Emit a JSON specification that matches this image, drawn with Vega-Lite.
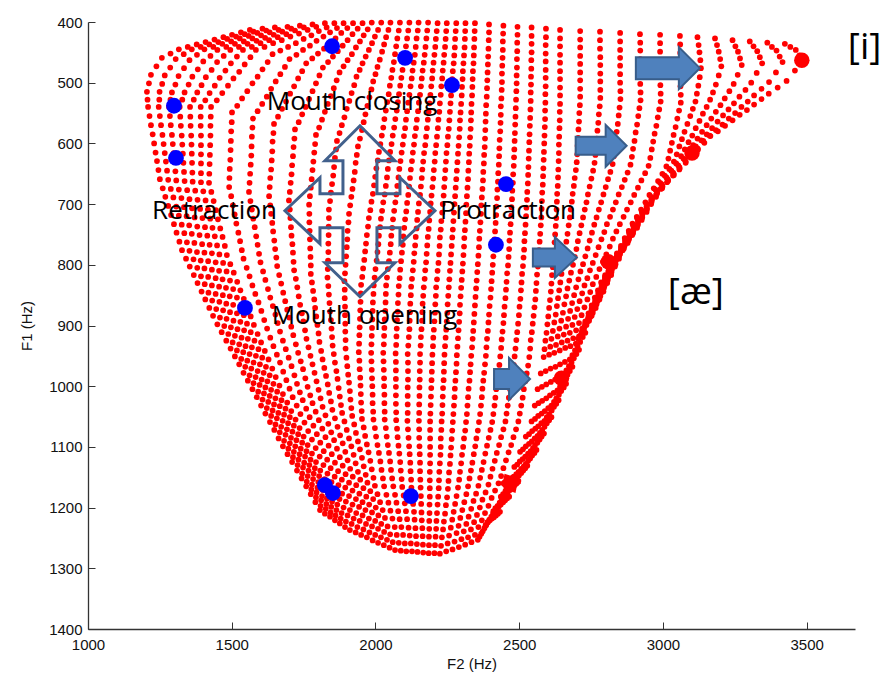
{
"$schema":"https://vega.github.io/schema/vega-lite/v6.json",
"width":767,"height":607,
"autosize":{"type":"none"},
"padding":{"left":88,"top":22,"right":30,"bottom":49},
"background":"white",
"config":{"view":{"stroke":null},
"axis":{"grid":false,"domainColor":"#333333","tickColor":"#333333","domainWidth":1.3,"tickWidth":1,"labelFont":"Liberation Sans","labelFontSize":15,"labelColor":"#111111","titleFont":"Liberation Sans","titleFontSize":15,"titleFontWeight":"normal","titleColor":"#111111","labelFlush":false,"labelOverlap":false,"tickSize":-7,"format":"d"},
"axisX":{"labelPadding":15,"titlePadding":4},
"axisY":{"labelPadding":13,"titlePadding":14}},
"datasets":{
"dots":[
{"x":1563,"y":413},{"x":1607,"y":411},{"x":1650,"y":409},{"x":1694,"y":408},{"x":1737,"y":406},{"x":1781,"y":404},{"x":1824,"y":402},{"x":1857,"y":402},{"x":1889,"y":402},{"x":1922,"y":402},{"x":1955,"y":402},{"x":1987,"y":401},{"x":2020,"y":401},{"x":2052,"y":401},{"x":2085,"y":401},{"x":2118,"y":401},{"x":2150,"y":401},{"x":2183,"y":401},{"x":2216,"y":402},{"x":2248,"y":402},{"x":2281,"y":402},{"x":2313,"y":402},{"x":2346,"y":402},{"x":2395,"y":404},{"x":2445,"y":406},{"x":2494,"y":408},{"x":2543,"y":409},{"x":2593,"y":411},{"x":2642,"y":413},{"x":2712,"y":415},{"x":2781,"y":416},{"x":2851,"y":418},{"x":2920,"y":420},{"x":2990,"y":421},{"x":3059,"y":423},{"x":3120,"y":425},{"x":3181,"y":427},{"x":3242,"y":430},{"x":3302,"y":432},{"x":3363,"y":434},{"x":3424,"y":436},
{"x":1501,"y":421},{"x":1545,"y":420},{"x":1589,"y":418},{"x":1632,"y":417},{"x":1676,"y":416},{"x":1720,"y":414},{"x":1764,"y":413},{"x":1803,"y":415},{"x":1842,"y":417},{"x":1881,"y":418},{"x":1920,"y":420},{"x":1959,"y":422},{"x":1998,"y":424},{"x":2037,"y":425},{"x":2076,"y":427},{"x":2110,"y":427},{"x":2143,"y":427},{"x":2177,"y":427},{"x":2210,"y":428},{"x":2244,"y":428},{"x":2277,"y":428},{"x":2311,"y":428},{"x":2344,"y":428},{"x":2394,"y":430},{"x":2443,"y":432},{"x":2493,"y":434},{"x":2543,"y":436},{"x":2592,"y":438},{"x":2642,"y":440},{"x":2712,"y":442},{"x":2781,"y":444},{"x":2851,"y":446},{"x":2921,"y":447},{"x":2990,"y":449},{"x":3060,"y":451},{"x":3127,"y":450},{"x":3194,"y":449},{"x":3261,"y":449},{"x":3328,"y":448},{"x":3395,"y":447},{"x":3462,"y":446},
{"x":1440,"y":429},{"x":1484,"y":428},{"x":1528,"y":427},{"x":1572,"y":427},{"x":1616,"y":426},{"x":1660,"y":425},{"x":1704,"y":424},{"x":1750,"y":428},{"x":1795,"y":431},{"x":1841,"y":435},{"x":1886,"y":439},{"x":1932,"y":442},{"x":1977,"y":446},{"x":2023,"y":449},{"x":2068,"y":453},{"x":2102,"y":453},{"x":2137,"y":454},{"x":2171,"y":454},{"x":2205,"y":454},{"x":2239,"y":454},{"x":2274,"y":455},{"x":2308,"y":455},{"x":2342,"y":455},{"x":2392,"y":457},{"x":2442,"y":459},{"x":2492,"y":461},{"x":2542,"y":463},{"x":2592,"y":465},{"x":2642,"y":467},{"x":2712,"y":469},{"x":2782,"y":471},{"x":2851,"y":472},{"x":2921,"y":474},{"x":2991,"y":476},{"x":3061,"y":478},{"x":3132,"y":476},{"x":3203,"y":473},{"x":3274,"y":471},{"x":3345,"y":468},{"x":3416,"y":466},{"x":3487,"y":463},
{"x":1378,"y":437},{"x":1422,"y":437},{"x":1467,"y":436},{"x":1511,"y":436},{"x":1555,"y":436},{"x":1600,"y":435},{"x":1644,"y":435},{"x":1696,"y":441},{"x":1748,"y":446},{"x":1800,"y":452},{"x":1852,"y":457},{"x":1903,"y":463},{"x":1955,"y":468},{"x":2007,"y":474},{"x":2059,"y":479},{"x":2094,"y":479},{"x":2129,"y":480},{"x":2164,"y":480},{"x":2199,"y":480},{"x":2234,"y":480},{"x":2269,"y":481},{"x":2304,"y":481},{"x":2339,"y":481},{"x":2390,"y":483},{"x":2440,"y":485},{"x":2491,"y":488},{"x":2541,"y":490},{"x":2592,"y":492},{"x":2642,"y":494},{"x":2712,"y":496},{"x":2782,"y":498},{"x":2851,"y":500},{"x":2921,"y":502},{"x":2991,"y":504},{"x":3061,"y":506},{"x":3123,"y":505},{"x":3184,"y":503},{"x":3246,"y":502},{"x":3307,"y":500},{"x":3369,"y":499},{"x":3430,"y":497},
{"x":1316,"y":445},{"x":1361,"y":445},{"x":1405,"y":445},{"x":1450,"y":446},{"x":1495,"y":446},{"x":1539,"y":446},{"x":1584,"y":446},{"x":1642,"y":453},{"x":1701,"y":461},{"x":1759,"y":468},{"x":1817,"y":475},{"x":1875,"y":483},{"x":1934,"y":490},{"x":1992,"y":498},{"x":2050,"y":505},{"x":2086,"y":505},{"x":2122,"y":506},{"x":2158,"y":506},{"x":2194,"y":506},{"x":2229,"y":506},{"x":2265,"y":507},{"x":2301,"y":507},{"x":2337,"y":507},{"x":2388,"y":509},{"x":2439,"y":512},{"x":2490,"y":514},{"x":2540,"y":516},{"x":2591,"y":519},{"x":2642,"y":521},{"x":2712,"y":523},{"x":2782,"y":525},{"x":2852,"y":527},{"x":2922,"y":529},{"x":2992,"y":531},{"x":3062,"y":533},{"x":3113,"y":531},{"x":3164,"y":528},{"x":3215,"y":526},{"x":3266,"y":523},{"x":3317,"y":521},{"x":3368,"y":518},
{"x":1257,"y":459},{"x":1305,"y":461},{"x":1353,"y":463},{"x":1401,"y":465},{"x":1449,"y":466},{"x":1497,"y":468},{"x":1545,"y":470},{"x":1607,"y":478},{"x":1669,"y":486},{"x":1731,"y":493},{"x":1793,"y":501},{"x":1855,"y":509},{"x":1917,"y":517},{"x":1979,"y":524},{"x":2041,"y":532},{"x":2078,"y":532},{"x":2114,"y":533},{"x":2151,"y":533},{"x":2188,"y":534},{"x":2224,"y":534},{"x":2261,"y":534},{"x":2298,"y":535},{"x":2334,"y":535},{"x":2385,"y":537},{"x":2436,"y":539},{"x":2488,"y":542},{"x":2539,"y":544},{"x":2590,"y":546},{"x":2641,"y":548},{"x":2709,"y":550},{"x":2777,"y":552},{"x":2846,"y":554},{"x":2914,"y":555},{"x":2982,"y":557},{"x":3050,"y":559},{"x":3095,"y":555},{"x":3139,"y":551},{"x":3184,"y":548},{"x":3228,"y":544},{"x":3273,"y":540},{"x":3317,"y":536},
{"x":1219,"y":487},{"x":1267,"y":488},{"x":1315,"y":489},{"x":1363,"y":490},{"x":1410,"y":491},{"x":1458,"y":492},{"x":1506,"y":493},{"x":1572,"y":501},{"x":1637,"y":510},{"x":1703,"y":518},{"x":1769,"y":527},{"x":1834,"y":535},{"x":1900,"y":543},{"x":1965,"y":552},{"x":2031,"y":560},{"x":2069,"y":560},{"x":2106,"y":561},{"x":2144,"y":561},{"x":2182,"y":561},{"x":2219,"y":561},{"x":2257,"y":562},{"x":2294,"y":562},{"x":2332,"y":562},{"x":2383,"y":564},{"x":2435,"y":566},{"x":2486,"y":569},{"x":2537,"y":571},{"x":2589,"y":573},{"x":2640,"y":575},{"x":2706,"y":577},{"x":2772,"y":579},{"x":2839,"y":581},{"x":2905,"y":582},{"x":2971,"y":584},{"x":3037,"y":586},{"x":3075,"y":581},{"x":3114,"y":575},{"x":3152,"y":570},{"x":3190,"y":564},{"x":3229,"y":559},{"x":3267,"y":553},
{"x":1205,"y":515},{"x":1249,"y":515},{"x":1292,"y":516},{"x":1336,"y":516},{"x":1380,"y":516},{"x":1423,"y":517},{"x":1467,"y":517},{"x":1536,"y":526},{"x":1606,"y":535},{"x":1675,"y":543},{"x":1745,"y":552},{"x":1814,"y":561},{"x":1883,"y":570},{"x":1953,"y":578},{"x":2022,"y":587},{"x":2060,"y":587},{"x":2099,"y":588},{"x":2137,"y":588},{"x":2176,"y":589},{"x":2214,"y":589},{"x":2252,"y":589},{"x":2291,"y":590},{"x":2329,"y":590},{"x":2381,"y":592},{"x":2432,"y":594},{"x":2484,"y":596},{"x":2535,"y":598},{"x":2587,"y":600},{"x":2638,"y":602},{"x":2703,"y":604},{"x":2767,"y":605},{"x":2832,"y":607},{"x":2896,"y":609},{"x":2961,"y":610},{"x":3025,"y":612},{"x":3057,"y":605},{"x":3089,"y":598},{"x":3120,"y":592},{"x":3152,"y":585},{"x":3184,"y":578},{"x":3216,"y":571},
{"x":1209,"y":540},{"x":1246,"y":540},{"x":1282,"y":540},{"x":1319,"y":540},{"x":1355,"y":540},{"x":1392,"y":540},{"x":1428,"y":540},{"x":1501,"y":549},{"x":1574,"y":559},{"x":1647,"y":568},{"x":1720,"y":577},{"x":1793,"y":586},{"x":1866,"y":596},{"x":1939,"y":605},{"x":2012,"y":614},{"x":2051,"y":614},{"x":2091,"y":615},{"x":2130,"y":615},{"x":2169,"y":616},{"x":2208,"y":616},{"x":2247,"y":616},{"x":2287,"y":617},{"x":2326,"y":617},{"x":2378,"y":619},{"x":2430,"y":621},{"x":2482,"y":623},{"x":2533,"y":625},{"x":2585,"y":627},{"x":2637,"y":629},{"x":2700,"y":631},{"x":2762,"y":632},{"x":2825,"y":634},{"x":2887,"y":635},{"x":2950,"y":637},{"x":3012,"y":638},{"x":3038,"y":630},{"x":3063,"y":621},{"x":3089,"y":613},{"x":3114,"y":605},{"x":3140,"y":596},{"x":3165,"y":588},
{"x":1219,"y":570},{"x":1254,"y":570},{"x":1288,"y":570},{"x":1323,"y":571},{"x":1357,"y":571},{"x":1392,"y":571},{"x":1426,"y":571},{"x":1498,"y":580},{"x":1570,"y":589},{"x":1642,"y":597},{"x":1715,"y":606},{"x":1787,"y":615},{"x":1859,"y":624},{"x":1931,"y":632},{"x":2003,"y":641},{"x":2043,"y":642},{"x":2083,"y":642},{"x":2123,"y":643},{"x":2163,"y":643},{"x":2203,"y":644},{"x":2243,"y":644},{"x":2283,"y":645},{"x":2323,"y":645},{"x":2375,"y":647},{"x":2427,"y":649},{"x":2479,"y":651},{"x":2531,"y":652},{"x":2583,"y":654},{"x":2635,"y":656},{"x":2693,"y":657},{"x":2751,"y":658},{"x":2809,"y":659},{"x":2867,"y":660},{"x":2925,"y":661},{"x":2983,"y":662},{"x":3006,"y":653},{"x":3029,"y":645},{"x":3053,"y":636},{"x":3076,"y":627},{"x":3099,"y":619},{"x":3122,"y":610},
{"x":1230,"y":600},{"x":1263,"y":601},{"x":1295,"y":601},{"x":1328,"y":602},{"x":1360,"y":602},{"x":1393,"y":603},{"x":1425,"y":603},{"x":1496,"y":611},{"x":1568,"y":620},{"x":1639,"y":628},{"x":1710,"y":636},{"x":1781,"y":644},{"x":1853,"y":653},{"x":1924,"y":661},{"x":1995,"y":669},{"x":2036,"y":670},{"x":2076,"y":670},{"x":2117,"y":671},{"x":2158,"y":671},{"x":2198,"y":672},{"x":2239,"y":672},{"x":2279,"y":673},{"x":2320,"y":673},{"x":2372,"y":675},{"x":2424,"y":676},{"x":2476,"y":678},{"x":2528,"y":680},{"x":2580,"y":681},{"x":2632,"y":683},{"x":2686,"y":683},{"x":2739,"y":684},{"x":2793,"y":684},{"x":2846,"y":684},{"x":2900,"y":685},{"x":2953,"y":685},{"x":2974,"y":676},{"x":2995,"y":667},{"x":3016,"y":659},{"x":3037,"y":650},{"x":3058,"y":641},{"x":3079,"y":632},
{"x":1240,"y":629},{"x":1271,"y":630},{"x":1301,"y":631},{"x":1332,"y":632},{"x":1362,"y":632},{"x":1393,"y":633},{"x":1423,"y":634},{"x":1493,"y":642},{"x":1564,"y":650},{"x":1634,"y":657},{"x":1705,"y":665},{"x":1775,"y":673},{"x":1845,"y":681},{"x":1916,"y":688},{"x":1986,"y":696},{"x":2027,"y":697},{"x":2069,"y":697},{"x":2110,"y":698},{"x":2151,"y":699},{"x":2192,"y":699},{"x":2234,"y":700},{"x":2275,"y":700},{"x":2316,"y":701},{"x":2368,"y":702},{"x":2421,"y":704},{"x":2473,"y":705},{"x":2525,"y":706},{"x":2578,"y":708},{"x":2630,"y":709},{"x":2679,"y":709},{"x":2728,"y":709},{"x":2777,"y":709},{"x":2826,"y":709},{"x":2875,"y":709},{"x":2924,"y":709},{"x":2943,"y":700},{"x":2961,"y":690},{"x":2980,"y":681},{"x":2998,"y":672},{"x":3017,"y":662},{"x":3035,"y":653},
{"x":1250,"y":659},{"x":1279,"y":660},{"x":1307,"y":661},{"x":1336,"y":662},{"x":1364,"y":663},{"x":1393,"y":664},{"x":1421,"y":665},{"x":1491,"y":672},{"x":1560,"y":680},{"x":1630,"y":687},{"x":1699,"y":694},{"x":1769,"y":701},{"x":1838,"y":709},{"x":1908,"y":716},{"x":1977,"y":723},{"x":2019,"y":724},{"x":2061,"y":725},{"x":2103,"y":725},{"x":2145,"y":726},{"x":2187,"y":727},{"x":2229,"y":728},{"x":2271,"y":728},{"x":2313,"y":729},{"x":2365,"y":730},{"x":2418,"y":731},{"x":2470,"y":733},{"x":2522,"y":734},{"x":2575,"y":735},{"x":2627,"y":736},{"x":2672,"y":735},{"x":2716,"y":735},{"x":2761,"y":734},{"x":2805,"y":733},{"x":2850,"y":733},{"x":2894,"y":732},{"x":2910,"y":723},{"x":2927,"y":713},{"x":2943,"y":704},{"x":2959,"y":694},{"x":2976,"y":685},{"x":2992,"y":675},
{"x":1269,"y":688},{"x":1297,"y":689},{"x":1325,"y":690},{"x":1353,"y":692},{"x":1381,"y":693},{"x":1409,"y":694},{"x":1437,"y":695},{"x":1504,"y":702},{"x":1570,"y":709},{"x":1637,"y":716},{"x":1704,"y":723},{"x":1770,"y":730},{"x":1837,"y":737},{"x":1903,"y":744},{"x":1970,"y":751},{"x":2012,"y":752},{"x":2055,"y":752},{"x":2097,"y":753},{"x":2140,"y":754},{"x":2182,"y":754},{"x":2224,"y":755},{"x":2267,"y":755},{"x":2309,"y":756},{"x":2361,"y":757},{"x":2414,"y":758},{"x":2466,"y":760},{"x":2518,"y":761},{"x":2571,"y":762},{"x":2623,"y":763},{"x":2664,"y":762},{"x":2704,"y":761},{"x":2745,"y":760},{"x":2786,"y":758},{"x":2826,"y":757},{"x":2867,"y":756},{"x":2882,"y":747},{"x":2898,"y":737},{"x":2913,"y":728},{"x":2928,"y":719},{"x":2944,"y":709},{"x":2959,"y":700},
{"x":1289,"y":718},{"x":1316,"y":719},{"x":1343,"y":720},{"x":1371,"y":722},{"x":1398,"y":723},{"x":1425,"y":724},{"x":1452,"y":725},{"x":1516,"y":732},{"x":1580,"y":738},{"x":1644,"y":745},{"x":1708,"y":752},{"x":1772,"y":758},{"x":1836,"y":765},{"x":1900,"y":771},{"x":1964,"y":778},{"x":2007,"y":779},{"x":2050,"y":780},{"x":2092,"y":780},{"x":2135,"y":781},{"x":2178,"y":782},{"x":2221,"y":783},{"x":2263,"y":783},{"x":2306,"y":784},{"x":2358,"y":785},{"x":2410,"y":786},{"x":2463,"y":787},{"x":2515,"y":788},{"x":2567,"y":789},{"x":2619,"y":790},{"x":2656,"y":789},{"x":2693,"y":787},{"x":2730,"y":786},{"x":2766,"y":784},{"x":2803,"y":783},{"x":2840,"y":781},{"x":2854,"y":772},{"x":2869,"y":763},{"x":2883,"y":754},{"x":2897,"y":744},{"x":2912,"y":735},{"x":2926,"y":726},
{"x":1308,"y":747},{"x":1335,"y":748},{"x":1361,"y":749},{"x":1388,"y":751},{"x":1415,"y":752},{"x":1441,"y":753},{"x":1468,"y":754},{"x":1529,"y":761},{"x":1590,"y":767},{"x":1651,"y":774},{"x":1713,"y":780},{"x":1774,"y":787},{"x":1835,"y":793},{"x":1896,"y":800},{"x":1957,"y":806},{"x":2000,"y":807},{"x":2043,"y":807},{"x":2086,"y":808},{"x":2130,"y":809},{"x":2173,"y":809},{"x":2216,"y":810},{"x":2259,"y":810},{"x":2302,"y":811},{"x":2354,"y":812},{"x":2406,"y":813},{"x":2458,"y":814},{"x":2510,"y":815},{"x":2562,"y":816},{"x":2614,"y":817},{"x":2647,"y":815},{"x":2680,"y":813},{"x":2713,"y":811},{"x":2746,"y":809},{"x":2779,"y":807},{"x":2812,"y":805},{"x":2826,"y":796},{"x":2839,"y":787},{"x":2853,"y":778},{"x":2866,"y":769},{"x":2880,"y":760},{"x":2893,"y":751},
{"x":1327,"y":776},{"x":1353,"y":777},{"x":1379,"y":779},{"x":1405,"y":780},{"x":1431,"y":781},{"x":1457,"y":783},{"x":1483,"y":784},{"x":1541,"y":790},{"x":1600,"y":796},{"x":1658,"y":802},{"x":1717,"y":809},{"x":1775,"y":815},{"x":1833,"y":821},{"x":1892,"y":827},{"x":1950,"y":833},{"x":1994,"y":834},{"x":2037,"y":834},{"x":2081,"y":835},{"x":2124,"y":836},{"x":2168,"y":837},{"x":2211,"y":837},{"x":2255,"y":837},{"x":2298,"y":838},{"x":2350,"y":839},{"x":2402,"y":840},{"x":2454,"y":841},{"x":2506,"y":842},{"x":2558,"y":843},{"x":2610,"y":844},{"x":2639,"y":842},{"x":2668,"y":839},{"x":2698,"y":837},{"x":2727,"y":834},{"x":2756,"y":832},{"x":2785,"y":829},{"x":2798,"y":820},{"x":2810,"y":811},{"x":2823,"y":803},{"x":2835,"y":794},{"x":2848,"y":785},{"x":2860,"y":776},
{"x":1354,"y":803},{"x":1380,"y":805},{"x":1405,"y":806},{"x":1431,"y":808},{"x":1456,"y":810},{"x":1482,"y":811},{"x":1507,"y":813},{"x":1562,"y":819},{"x":1617,"y":825},{"x":1672,"y":831},{"x":1728,"y":837},{"x":1783,"y":843},{"x":1838,"y":849},{"x":1893,"y":855},{"x":1948,"y":861},{"x":1991,"y":862},{"x":2035,"y":862},{"x":2078,"y":863},{"x":2121,"y":864},{"x":2164,"y":864},{"x":2208,"y":865},{"x":2251,"y":865},{"x":2294,"y":866},{"x":2346,"y":867},{"x":2397,"y":868},{"x":2449,"y":869},{"x":2501,"y":869},{"x":2553,"y":870},{"x":2604,"y":871},{"x":2631,"y":868},{"x":2657,"y":865},{"x":2684,"y":863},{"x":2710,"y":860},{"x":2737,"y":857},{"x":2763,"y":854},{"x":2775,"y":846},{"x":2786,"y":837},{"x":2798,"y":829},{"x":2810,"y":820},{"x":2821,"y":812},{"x":2833,"y":803},
{"x":1381,"y":830},{"x":1406,"y":832},{"x":1431,"y":834},{"x":1456,"y":836},{"x":1480,"y":838},{"x":1505,"y":840},{"x":1530,"y":842},{"x":1582,"y":848},{"x":1634,"y":854},{"x":1686,"y":860},{"x":1738,"y":866},{"x":1790,"y":871},{"x":1842,"y":877},{"x":1894,"y":883},{"x":1946,"y":889},{"x":1989,"y":890},{"x":2032,"y":890},{"x":2075,"y":891},{"x":2119,"y":892},{"x":2162,"y":892},{"x":2205,"y":893},{"x":2248,"y":893},{"x":2291,"y":894},{"x":2342,"y":895},{"x":2393,"y":895},{"x":2445,"y":896},{"x":2496,"y":897},{"x":2547,"y":897},{"x":2598,"y":898},{"x":2622,"y":895},{"x":2646,"y":892},{"x":2670,"y":889},{"x":2693,"y":886},{"x":2717,"y":883},{"x":2741,"y":880},{"x":2752,"y":872},{"x":2763,"y":863},{"x":2774,"y":855},{"x":2784,"y":847},{"x":2795,"y":838},{"x":2806,"y":830},
{"x":1408,"y":857},{"x":1432,"y":859},{"x":1457,"y":861},{"x":1481,"y":864},{"x":1505,"y":866},{"x":1530,"y":868},{"x":1554,"y":870},{"x":1603,"y":876},{"x":1652,"y":882},{"x":1700,"y":887},{"x":1749,"y":893},{"x":1798,"y":899},{"x":1847,"y":905},{"x":1895,"y":910},{"x":1944,"y":916},{"x":1987,"y":917},{"x":2030,"y":917},{"x":2073,"y":918},{"x":2116,"y":919},{"x":2158,"y":919},{"x":2201,"y":920},{"x":2244,"y":920},{"x":2287,"y":921},{"x":2338,"y":922},{"x":2388,"y":922},{"x":2439,"y":923},{"x":2490,"y":924},{"x":2540,"y":924},{"x":2591,"y":925},{"x":2612,"y":922},{"x":2634,"y":918},{"x":2655,"y":915},{"x":2676,"y":912},{"x":2698,"y":908},{"x":2719,"y":905},{"x":2729,"y":897},{"x":2739,"y":889},{"x":2749,"y":881},{"x":2759,"y":873},{"x":2769,"y":865},{"x":2779,"y":857},
{"x":1435,"y":884},{"x":1459,"y":887},{"x":1482,"y":889},{"x":1506,"y":892},{"x":1530,"y":894},{"x":1553,"y":897},{"x":1577,"y":899},{"x":1623,"y":905},{"x":1668,"y":910},{"x":1714,"y":916},{"x":1760,"y":922},{"x":1805,"y":927},{"x":1851,"y":933},{"x":1896,"y":938},{"x":1942,"y":944},{"x":1985,"y":945},{"x":2027,"y":945},{"x":2070,"y":946},{"x":2112,"y":947},{"x":2155,"y":947},{"x":2198,"y":948},{"x":2240,"y":948},{"x":2283,"y":949},{"x":2333,"y":950},{"x":2384,"y":950},{"x":2434,"y":951},{"x":2484,"y":951},{"x":2535,"y":952},{"x":2585,"y":952},{"x":2604,"y":948},{"x":2622,"y":945},{"x":2641,"y":941},{"x":2660,"y":937},{"x":2678,"y":934},{"x":2697,"y":930},{"x":2706,"y":922},{"x":2715,"y":915},{"x":2725,"y":907},{"x":2734,"y":899},{"x":2743,"y":892},{"x":2752,"y":884},
{"x":1465,"y":911},{"x":1488,"y":914},{"x":1511,"y":917},{"x":1534,"y":920},{"x":1556,"y":922},{"x":1579,"y":925},{"x":1602,"y":928},{"x":1645,"y":934},{"x":1688,"y":939},{"x":1731,"y":945},{"x":1774,"y":950},{"x":1816,"y":956},{"x":1859,"y":961},{"x":1902,"y":967},{"x":1945,"y":972},{"x":1987,"y":973},{"x":2029,"y":973},{"x":2071,"y":974},{"x":2113,"y":975},{"x":2154,"y":975},{"x":2196,"y":976},{"x":2238,"y":976},{"x":2280,"y":977},{"x":2329,"y":977},{"x":2378,"y":978},{"x":2428,"y":978},{"x":2477,"y":978},{"x":2526,"y":979},{"x":2575,"y":979},{"x":2592,"y":975},{"x":2609,"y":971},{"x":2626,"y":968},{"x":2642,"y":964},{"x":2659,"y":960},{"x":2676,"y":956},{"x":2685,"y":949},{"x":2694,"y":941},{"x":2703,"y":934},{"x":2712,"y":927},{"x":2721,"y":919},{"x":2730,"y":912},
{"x":1496,"y":938},{"x":1518,"y":941},{"x":1540,"y":944},{"x":1562,"y":947},{"x":1584,"y":950},{"x":1606,"y":953},{"x":1628,"y":956},{"x":1668,"y":961},{"x":1708,"y":967},{"x":1748,"y":972},{"x":1788,"y":978},{"x":1828,"y":983},{"x":1868,"y":988},{"x":1908,"y":994},{"x":1948,"y":999},{"x":1989,"y":1000},{"x":2030,"y":1000},{"x":2071,"y":1001},{"x":2112,"y":1002},{"x":2153,"y":1002},{"x":2194,"y":1003},{"x":2235,"y":1003},{"x":2276,"y":1004},{"x":2324,"y":1004},{"x":2372,"y":1004},{"x":2420,"y":1005},{"x":2468,"y":1005},{"x":2516,"y":1005},{"x":2564,"y":1005},{"x":2579,"y":1001},{"x":2594,"y":997},{"x":2610,"y":993},{"x":2625,"y":989},{"x":2640,"y":985},{"x":2655,"y":981},{"x":2664,"y":974},{"x":2673,"y":967},{"x":2682,"y":961},{"x":2690,"y":954},{"x":2699,"y":947},{"x":2708,"y":940},
{"x":1526,"y":964},{"x":1547,"y":968},{"x":1568,"y":971},{"x":1590,"y":975},{"x":1611,"y":978},{"x":1632,"y":982},{"x":1653,"y":985},{"x":1690,"y":990},{"x":1727,"y":996},{"x":1764,"y":1001},{"x":1802,"y":1006},{"x":1839,"y":1011},{"x":1876,"y":1017},{"x":1913,"y":1022},{"x":1950,"y":1027},{"x":1990,"y":1028},{"x":2031,"y":1028},{"x":2071,"y":1029},{"x":2112,"y":1030},{"x":2152,"y":1030},{"x":2192,"y":1031},{"x":2233,"y":1031},{"x":2273,"y":1032},{"x":2320,"y":1032},{"x":2367,"y":1032},{"x":2414,"y":1032},{"x":2460,"y":1032},{"x":2507,"y":1032},{"x":2554,"y":1032},{"x":2567,"y":1028},{"x":2580,"y":1024},{"x":2594,"y":1020},{"x":2607,"y":1015},{"x":2620,"y":1011},{"x":2633,"y":1007},{"x":2642,"y":1001},{"x":2650,"y":994},{"x":2659,"y":988},{"x":2668,"y":981},{"x":2676,"y":975},{"x":2685,"y":968},
{"x":1556,"y":991},{"x":1576,"y":995},{"x":1597,"y":998},{"x":1617,"y":1002},{"x":1637,"y":1006},{"x":1658,"y":1009},{"x":1678,"y":1013},{"x":1712,"y":1018},{"x":1747,"y":1023},{"x":1781,"y":1028},{"x":1816,"y":1034},{"x":1850,"y":1039},{"x":1884,"y":1044},{"x":1919,"y":1049},{"x":1953,"y":1054},{"x":1993,"y":1055},{"x":2032,"y":1055},{"x":2072,"y":1056},{"x":2111,"y":1057},{"x":2151,"y":1057},{"x":2190,"y":1058},{"x":2230,"y":1058},{"x":2269,"y":1059},{"x":2315,"y":1059},{"x":2360,"y":1059},{"x":2406,"y":1059},{"x":2452,"y":1058},{"x":2497,"y":1058},{"x":2543,"y":1058},{"x":2555,"y":1054},{"x":2566,"y":1049},{"x":2578,"y":1045},{"x":2589,"y":1041},{"x":2601,"y":1036},{"x":2612,"y":1032},{"x":2621,"y":1026},{"x":2629,"y":1020},{"x":2638,"y":1014},{"x":2646,"y":1008},{"x":2655,"y":1002},{"x":2663,"y":996},
{"x":1587,"y":1018},{"x":1607,"y":1022},{"x":1627,"y":1026},{"x":1647,"y":1030},{"x":1667,"y":1033},{"x":1687,"y":1037},{"x":1707,"y":1041},{"x":1739,"y":1046},{"x":1771,"y":1051},{"x":1803,"y":1056},{"x":1836,"y":1062},{"x":1868,"y":1067},{"x":1900,"y":1072},{"x":1932,"y":1077},{"x":1964,"y":1082},{"x":2002,"y":1083},{"x":2039,"y":1083},{"x":2077,"y":1084},{"x":2115,"y":1085},{"x":2152,"y":1085},{"x":2190,"y":1086},{"x":2227,"y":1086},{"x":2265,"y":1087},{"x":2308,"y":1086},{"x":2351,"y":1086},{"x":2394,"y":1085},{"x":2437,"y":1084},{"x":2480,"y":1084},{"x":2523,"y":1083},{"x":2534,"y":1079},{"x":2545,"y":1074},{"x":2556,"y":1070},{"x":2566,"y":1066},{"x":2577,"y":1061},{"x":2588,"y":1057},{"x":2596,"y":1051},{"x":2604,"y":1046},{"x":2613,"y":1040},{"x":2621,"y":1034},{"x":2629,"y":1029},{"x":2637,"y":1023},
{"x":1617,"y":1045},{"x":1637,"y":1049},{"x":1657,"y":1053},{"x":1677,"y":1057},{"x":1696,"y":1061},{"x":1716,"y":1065},{"x":1736,"y":1069},{"x":1766,"y":1074},{"x":1796,"y":1079},{"x":1826,"y":1084},{"x":1856,"y":1089},{"x":1886,"y":1094},{"x":1916,"y":1099},{"x":1946,"y":1104},{"x":1976,"y":1109},{"x":2012,"y":1110},{"x":2047,"y":1110},{"x":2083,"y":1111},{"x":2119,"y":1112},{"x":2154,"y":1112},{"x":2190,"y":1113},{"x":2226,"y":1113},{"x":2261,"y":1114},{"x":2301,"y":1113},{"x":2342,"y":1112},{"x":2382,"y":1111},{"x":2422,"y":1110},{"x":2463,"y":1109},{"x":2503,"y":1108},{"x":2513,"y":1104},{"x":2523,"y":1099},{"x":2534,"y":1095},{"x":2544,"y":1091},{"x":2554,"y":1086},{"x":2564,"y":1082},{"x":2572,"y":1077},{"x":2580,"y":1072},{"x":2588,"y":1067},{"x":2596,"y":1061},{"x":2604,"y":1056},{"x":2612,"y":1051},
{"x":1648,"y":1072},{"x":1667,"y":1076},{"x":1687,"y":1080},{"x":1706,"y":1085},{"x":1725,"y":1089},{"x":1745,"y":1093},{"x":1764,"y":1097},{"x":1792,"y":1102},{"x":1820,"y":1107},{"x":1848,"y":1112},{"x":1876,"y":1117},{"x":1903,"y":1122},{"x":1931,"y":1127},{"x":1959,"y":1132},{"x":1987,"y":1137},{"x":2021,"y":1138},{"x":2054,"y":1138},{"x":2088,"y":1139},{"x":2122,"y":1140},{"x":2155,"y":1140},{"x":2189,"y":1141},{"x":2222,"y":1141},{"x":2256,"y":1142},{"x":2294,"y":1141},{"x":2332,"y":1139},{"x":2370,"y":1138},{"x":2407,"y":1136},{"x":2445,"y":1135},{"x":2483,"y":1133},{"x":2493,"y":1129},{"x":2502,"y":1124},{"x":2512,"y":1120},{"x":2521,"y":1116},{"x":2531,"y":1111},{"x":2540,"y":1107},{"x":2548,"y":1102},{"x":2555,"y":1097},{"x":2563,"y":1093},{"x":2571,"y":1088},{"x":2578,"y":1083},{"x":2586,"y":1078},
{"x":1678,"y":1099},{"x":1697,"y":1103},{"x":1716,"y":1108},{"x":1736,"y":1112},{"x":1755,"y":1116},{"x":1774,"y":1121},{"x":1793,"y":1125},{"x":1819,"y":1130},{"x":1844,"y":1135},{"x":1870,"y":1140},{"x":1896,"y":1145},{"x":1921,"y":1149},{"x":1947,"y":1154},{"x":1972,"y":1159},{"x":1998,"y":1164},{"x":2030,"y":1165},{"x":2062,"y":1165},{"x":2093,"y":1166},{"x":2125,"y":1167},{"x":2157,"y":1167},{"x":2189,"y":1168},{"x":2220,"y":1168},{"x":2252,"y":1169},{"x":2287,"y":1167},{"x":2322,"y":1165},{"x":2358,"y":1164},{"x":2393,"y":1162},{"x":2428,"y":1160},{"x":2463,"y":1158},{"x":2472,"y":1154},{"x":2481,"y":1149},{"x":2490,"y":1145},{"x":2498,"y":1141},{"x":2507,"y":1136},{"x":2516,"y":1132},{"x":2523,"y":1128},{"x":2531,"y":1123},{"x":2538,"y":1119},{"x":2545,"y":1114},{"x":2553,"y":1110},{"x":2560,"y":1105},
{"x":1710,"y":1125},{"x":1729,"y":1130},{"x":1748,"y":1134},{"x":1767,"y":1139},{"x":1785,"y":1144},{"x":1804,"y":1148},{"x":1823,"y":1153},{"x":1847,"y":1158},{"x":1871,"y":1163},{"x":1895,"y":1167},{"x":1920,"y":1172},{"x":1944,"y":1177},{"x":1968,"y":1182},{"x":1992,"y":1186},{"x":2016,"y":1191},{"x":2045,"y":1192},{"x":2073,"y":1192},{"x":2102,"y":1193},{"x":2131,"y":1194},{"x":2159,"y":1194},{"x":2188,"y":1195},{"x":2216,"y":1195},{"x":2245,"y":1196},{"x":2277,"y":1194},{"x":2309,"y":1191},{"x":2341,"y":1189},{"x":2372,"y":1187},{"x":2404,"y":1184},{"x":2436,"y":1182},{"x":2444,"y":1178},{"x":2452,"y":1173},{"x":2461,"y":1169},{"x":2469,"y":1164},{"x":2477,"y":1160},{"x":2485,"y":1155},{"x":2492,"y":1151},{"x":2499,"y":1147},{"x":2507,"y":1143},{"x":2514,"y":1139},{"x":2521,"y":1135},{"x":2528,"y":1131},
{"x":1743,"y":1152},{"x":1761,"y":1157},{"x":1779,"y":1162},{"x":1798,"y":1167},{"x":1816,"y":1171},{"x":1834,"y":1176},{"x":1852,"y":1181},{"x":1875,"y":1186},{"x":1897,"y":1190},{"x":1920,"y":1195},{"x":1943,"y":1199},{"x":1965,"y":1204},{"x":1988,"y":1208},{"x":2010,"y":1213},{"x":2033,"y":1217},{"x":2059,"y":1218},{"x":2084,"y":1219},{"x":2110,"y":1219},{"x":2136,"y":1220},{"x":2161,"y":1221},{"x":2187,"y":1222},{"x":2212,"y":1222},{"x":2238,"y":1223},{"x":2267,"y":1220},{"x":2295,"y":1217},{"x":2324,"y":1215},{"x":2353,"y":1212},{"x":2381,"y":1209},{"x":2410,"y":1206},{"x":2417,"y":1201},{"x":2425,"y":1197},{"x":2432,"y":1192},{"x":2439,"y":1187},{"x":2447,"y":1183},{"x":2454,"y":1178},{"x":2461,"y":1174},{"x":2468,"y":1171},{"x":2476,"y":1167},{"x":2483,"y":1163},{"x":2490,"y":1160},{"x":2497,"y":1156},
{"x":1775,"y":1178},{"x":1793,"y":1183},{"x":1811,"y":1188},{"x":1829,"y":1194},{"x":1846,"y":1199},{"x":1864,"y":1204},{"x":1882,"y":1209},{"x":1903,"y":1213},{"x":1924,"y":1218},{"x":1945,"y":1222},{"x":1967,"y":1227},{"x":1988,"y":1231},{"x":2009,"y":1235},{"x":2030,"y":1240},{"x":2051,"y":1244},{"x":2074,"y":1245},{"x":2096,"y":1245},{"x":2119,"y":1246},{"x":2141,"y":1247},{"x":2164,"y":1247},{"x":2186,"y":1248},{"x":2209,"y":1248},{"x":2231,"y":1249},{"x":2256,"y":1246},{"x":2282,"y":1242},{"x":2307,"y":1239},{"x":2332,"y":1236},{"x":2358,"y":1232},{"x":2383,"y":1229},{"x":2390,"y":1224},{"x":2396,"y":1220},{"x":2403,"y":1215},{"x":2409,"y":1210},{"x":2416,"y":1206},{"x":2422,"y":1201},{"x":2429,"y":1198},{"x":2436,"y":1195},{"x":2444,"y":1191},{"x":2451,"y":1188},{"x":2458,"y":1185},{"x":2465,"y":1182},
{"x":1807,"y":1204},{"x":1824,"y":1210},{"x":1842,"y":1215},{"x":1859,"y":1221},{"x":1876,"y":1226},{"x":1894,"y":1232},{"x":1911,"y":1237},{"x":1931,"y":1241},{"x":1950,"y":1245},{"x":1970,"y":1249},{"x":1990,"y":1254},{"x":2009,"y":1258},{"x":2029,"y":1262},{"x":2049,"y":1266},{"x":2068,"y":1270},{"x":2088,"y":1271},{"x":2107,"y":1272},{"x":2127,"y":1272},{"x":2146,"y":1273},{"x":2166,"y":1274},{"x":2185,"y":1275},{"x":2205,"y":1275},{"x":2224,"y":1276},{"x":2246,"y":1272},{"x":2268,"y":1269},{"x":2290,"y":1265},{"x":2312,"y":1261},{"x":2334,"y":1257},{"x":2356,"y":1253},{"x":2362,"y":1248},{"x":2368,"y":1243},{"x":2373,"y":1239},{"x":2379,"y":1234},{"x":2385,"y":1229},{"x":2391,"y":1224},{"x":2398,"y":1221},{"x":2405,"y":1218},{"x":2412,"y":1216},{"x":2419,"y":1213},{"x":2426,"y":1210},{"x":2433,"y":1207},
{"x":2345,"y":415},{"x":2395,"y":417},{"x":2444,"y":419},{"x":2494,"y":421},{"x":2543,"y":423},{"x":2593,"y":425},{"x":2642,"y":427},{"x":2712,"y":429},{"x":2781,"y":430},{"x":2851,"y":432},{"x":2921,"y":434},{"x":2990,"y":435},{"x":3060,"y":437},{"x":3124,"y":438},{"x":3188,"y":438},{"x":3252,"y":440},{"x":3315,"y":440},{"x":3379,"y":441},{"x":3443,"y":441},
{"x":2343,"y":442},{"x":2393,"y":444},{"x":2443,"y":446},{"x":2493,"y":448},{"x":2543,"y":450},{"x":2592,"y":452},{"x":2642,"y":454},{"x":2712,"y":456},{"x":2782,"y":458},{"x":2851,"y":459},{"x":2921,"y":461},{"x":2991,"y":463},{"x":3061,"y":465},{"x":3130,"y":463},{"x":3199,"y":461},{"x":3268,"y":460},{"x":3337,"y":458},{"x":3406,"y":457},{"x":3475,"y":455},
{"x":2341,"y":468},{"x":2391,"y":470},{"x":2441,"y":472},{"x":2492,"y":475},{"x":2542,"y":477},{"x":2592,"y":479},{"x":2642,"y":481},{"x":2712,"y":483},{"x":2782,"y":485},{"x":2851,"y":486},{"x":2921,"y":488},{"x":2991,"y":490},{"x":3061,"y":492},{"x":3128,"y":491},{"x":3194,"y":488},{"x":3260,"y":487},{"x":3326,"y":484},{"x":3393,"y":483},{"x":3459,"y":480},
{"x":2338,"y":494},{"x":2389,"y":496},{"x":2440,"y":499},{"x":2491,"y":501},{"x":2541,"y":503},{"x":2592,"y":506},{"x":2642,"y":508},{"x":2712,"y":510},{"x":2782,"y":512},{"x":2852,"y":514},{"x":2922,"y":516},{"x":2992,"y":518},{"x":3062,"y":520},{"x":3118,"y":518},{"x":3174,"y":516},{"x":3231,"y":514},{"x":3287,"y":512},{"x":3343,"y":510},{"x":3399,"y":508},
{"x":2336,"y":521},{"x":2387,"y":523},{"x":2438,"y":526},{"x":2489,"y":528},{"x":2540,"y":530},{"x":2591,"y":533},{"x":2642,"y":535},{"x":2711,"y":537},{"x":2780,"y":539},{"x":2849,"y":541},{"x":2918,"y":542},{"x":2987,"y":544},{"x":3056,"y":546},{"x":3104,"y":543},{"x":3152,"y":540},{"x":3200,"y":537},{"x":3247,"y":534},{"x":3295,"y":531},{"x":3343,"y":527},
{"x":2333,"y":549},{"x":2384,"y":551},{"x":2436,"y":553},{"x":2487,"y":556},{"x":2538,"y":558},{"x":2590,"y":560},{"x":2641,"y":562},{"x":2708,"y":564},{"x":2775,"y":566},{"x":2843,"y":568},{"x":2910,"y":569},{"x":2977,"y":571},{"x":3044,"y":573},{"x":3085,"y":568},{"x":3127,"y":563},{"x":3168,"y":559},{"x":3209,"y":554},{"x":3251,"y":550},{"x":3292,"y":545},
{"x":2331,"y":576},{"x":2382,"y":578},{"x":2434,"y":580},{"x":2485,"y":583},{"x":2536,"y":585},{"x":2588,"y":587},{"x":2639,"y":589},{"x":2705,"y":591},{"x":2770,"y":592},{"x":2836,"y":594},{"x":2901,"y":596},{"x":2966,"y":597},{"x":3031,"y":599},{"x":3066,"y":593},{"x":3102,"y":587},{"x":3136,"y":581},{"x":3171,"y":575},{"x":3207,"y":569},{"x":3242,"y":562},
{"x":2328,"y":604},{"x":2380,"y":606},{"x":2431,"y":608},{"x":2483,"y":610},{"x":2534,"y":612},{"x":2586,"y":614},{"x":2638,"y":616},{"x":2702,"y":618},{"x":2765,"y":619},{"x":2829,"y":621},{"x":2892,"y":622},{"x":2956,"y":624},{"x":3019,"y":625},{"x":3048,"y":618},{"x":3076,"y":610},{"x":3105,"y":603},{"x":3133,"y":595},{"x":3162,"y":587},{"x":3191,"y":580},
{"x":2325,"y":631},{"x":2377,"y":633},{"x":2429,"y":635},{"x":2481,"y":637},{"x":2532,"y":639},{"x":2584,"y":641},{"x":2636,"y":643},{"x":2697,"y":644},{"x":2757,"y":645},{"x":2817,"y":647},{"x":2877,"y":648},{"x":2938,"y":649},{"x":2998,"y":650},{"x":3022,"y":642},{"x":3046,"y":633},{"x":3071,"y":625},{"x":3095,"y":616},{"x":3120,"y":608},{"x":3144,"y":599},
{"x":2322,"y":659},{"x":2374,"y":661},{"x":2426,"y":663},{"x":2478,"y":665},{"x":2530,"y":666},{"x":2582,"y":668},{"x":2634,"y":670},{"x":2690,"y":670},{"x":2745,"y":671},{"x":2801,"y":672},{"x":2857,"y":672},{"x":2913,"y":673},{"x":2968,"y":674},{"x":2990,"y":665},{"x":3012,"y":656},{"x":3035,"y":648},{"x":3057,"y":639},{"x":3079,"y":630},{"x":3101,"y":621},
{"x":2318,"y":687},{"x":2370,"y":689},{"x":2423,"y":690},{"x":2475,"y":692},{"x":2527,"y":693},{"x":2579,"y":695},{"x":2631,"y":696},{"x":2683,"y":696},{"x":2734,"y":697},{"x":2785,"y":697},{"x":2836,"y":697},{"x":2888,"y":697},{"x":2939,"y":697},{"x":2959,"y":688},{"x":2978,"y":679},{"x":2998,"y":670},{"x":3018,"y":661},{"x":3038,"y":652},{"x":3057,"y":643},
{"x":2315,"y":715},{"x":2367,"y":716},{"x":2420,"y":718},{"x":2472,"y":719},{"x":2524,"y":720},{"x":2577,"y":722},{"x":2629,"y":723},{"x":2676,"y":722},{"x":2722,"y":722},{"x":2769,"y":722},{"x":2816,"y":721},{"x":2863,"y":721},{"x":2909,"y":721},{"x":2927,"y":712},{"x":2944,"y":702},{"x":2962,"y":693},{"x":2979,"y":683},{"x":2997,"y":674},{"x":3014,"y":664},
{"x":2311,"y":743},{"x":2363,"y":744},{"x":2416,"y":745},{"x":2468,"y":747},{"x":2520,"y":748},{"x":2573,"y":749},{"x":2625,"y":750},{"x":2668,"y":749},{"x":2710,"y":748},{"x":2753,"y":747},{"x":2796,"y":746},{"x":2838,"y":745},{"x":2881,"y":744},{"x":2896,"y":735},{"x":2913,"y":725},{"x":2928,"y":716},{"x":2944,"y":707},{"x":2960,"y":697},{"x":2976,"y":688},
{"x":2308,"y":770},{"x":2360,"y":771},{"x":2412,"y":772},{"x":2465,"y":774},{"x":2517,"y":775},{"x":2569,"y":776},{"x":2621,"y":777},{"x":2660,"y":776},{"x":2699,"y":774},{"x":2738,"y":773},{"x":2776,"y":771},{"x":2815,"y":770},{"x":2854,"y":769},{"x":2868,"y":760},{"x":2884,"y":750},{"x":2898,"y":741},{"x":2913,"y":732},{"x":2928,"y":722},{"x":2943,"y":713},
{"x":2304,"y":798},{"x":2356,"y":799},{"x":2408,"y":800},{"x":2461,"y":801},{"x":2513,"y":802},{"x":2565,"y":803},{"x":2617,"y":804},{"x":2652,"y":802},{"x":2687,"y":800},{"x":2722,"y":799},{"x":2756,"y":797},{"x":2791,"y":795},{"x":2826,"y":793},{"x":2840,"y":784},{"x":2854,"y":775},{"x":2868,"y":766},{"x":2882,"y":757},{"x":2896,"y":748},{"x":2910,"y":739},
{"x":2300,"y":825},{"x":2352,"y":826},{"x":2404,"y":827},{"x":2456,"y":828},{"x":2508,"y":829},{"x":2560,"y":830},{"x":2612,"y":831},{"x":2643,"y":829},{"x":2674,"y":826},{"x":2706,"y":824},{"x":2737,"y":822},{"x":2768,"y":820},{"x":2799,"y":817},{"x":2812,"y":808},{"x":2825,"y":799},{"x":2838,"y":791},{"x":2851,"y":782},{"x":2864,"y":773},{"x":2877,"y":764},
{"x":2296,"y":852},{"x":2348,"y":853},{"x":2400,"y":854},{"x":2452,"y":855},{"x":2504,"y":856},{"x":2556,"y":857},{"x":2607,"y":858},{"x":2635,"y":855},{"x":2663,"y":852},{"x":2691,"y":850},{"x":2719,"y":847},{"x":2747,"y":845},{"x":2774,"y":842},{"x":2787,"y":833},{"x":2798,"y":824},{"x":2811,"y":816},{"x":2823,"y":807},{"x":2835,"y":799},{"x":2847,"y":790},
{"x":2293,"y":880},{"x":2344,"y":881},{"x":2395,"y":882},{"x":2447,"y":883},{"x":2499,"y":883},{"x":2550,"y":884},{"x":2601,"y":885},{"x":2627,"y":882},{"x":2652,"y":879},{"x":2677,"y":876},{"x":2702,"y":873},{"x":2727,"y":870},{"x":2752,"y":867},{"x":2764,"y":859},{"x":2775,"y":850},{"x":2786,"y":842},{"x":2797,"y":834},{"x":2808,"y":825},{"x":2820,"y":817},
{"x":2289,"y":908},{"x":2340,"y":909},{"x":2391,"y":909},{"x":2442,"y":910},{"x":2493,"y":911},{"x":2544,"y":911},{"x":2595,"y":912},{"x":2617,"y":909},{"x":2640,"y":905},{"x":2663,"y":902},{"x":2685,"y":899},{"x":2708,"y":896},{"x":2730,"y":893},{"x":2741,"y":885},{"x":2751,"y":876},{"x":2762,"y":868},{"x":2772,"y":860},{"x":2782,"y":852},{"x":2793,"y":844},
{"x":2285,"y":935},{"x":2336,"y":936},{"x":2386,"y":936},{"x":2437,"y":937},{"x":2487,"y":938},{"x":2538,"y":938},{"x":2588,"y":939},{"x":2608,"y":935},{"x":2628,"y":932},{"x":2648,"y":928},{"x":2668,"y":925},{"x":2688,"y":921},{"x":2708,"y":918},{"x":2718,"y":910},{"x":2727,"y":902},{"x":2737,"y":894},{"x":2747,"y":886},{"x":2756,"y":879},{"x":2766,"y":871},
{"x":1495,"y":799},{"x":1552,"y":805},{"x":1609,"y":811},{"x":1665,"y":817},{"x":1723,"y":823},{"x":1779,"y":829},{"x":1836,"y":835},{"x":1893,"y":841},{"x":1949,"y":847},{"x":1993,"y":848},{"x":2036,"y":848},{"x":2080,"y":849},{"x":2123,"y":850},{"x":2166,"y":851},{"x":2210,"y":851},{"x":2253,"y":851},
{"x":1519,"y":828},{"x":1572,"y":834},{"x":1626,"y":840},{"x":1679,"y":846},{"x":1733,"y":852},{"x":1787,"y":857},{"x":1840,"y":863},{"x":1894,"y":869},{"x":1947,"y":875},{"x":1990,"y":876},{"x":2034,"y":876},{"x":2077,"y":877},{"x":2120,"y":878},{"x":2163,"y":878},{"x":2207,"y":879},{"x":2250,"y":879},
{"x":1542,"y":856},{"x":1593,"y":862},{"x":1643,"y":868},{"x":1693,"y":874},{"x":1744,"y":880},{"x":1794,"y":885},{"x":1845,"y":891},{"x":1895,"y":897},{"x":1945,"y":903},{"x":1988,"y":904},{"x":2031,"y":904},{"x":2074,"y":905},{"x":2118,"y":906},{"x":2160,"y":906},{"x":2203,"y":907},{"x":2246,"y":907},
{"x":1566,"y":885},{"x":1613,"y":891},{"x":1660,"y":896},{"x":1707,"y":902},{"x":1755,"y":908},{"x":1802,"y":913},{"x":1849,"y":919},{"x":1896,"y":924},{"x":1943,"y":930},{"x":1986,"y":931},{"x":2029,"y":931},{"x":2072,"y":932},{"x":2114,"y":933},{"x":2157,"y":933},{"x":2200,"y":934},{"x":2242,"y":934},
{"x":1590,"y":914},{"x":1634,"y":920},{"x":1678,"y":925},{"x":1723,"y":931},{"x":1767,"y":936},{"x":1811,"y":942},{"x":1855,"y":947},{"x":1899,"y":953},{"x":1944,"y":958},{"x":1986,"y":959},{"x":2028,"y":959},{"x":2071,"y":960},{"x":2113,"y":961},{"x":2155,"y":961},{"x":2197,"y":962},{"x":2239,"y":962},{"x":2282,"y":963},{"x":2331,"y":964},{"x":2381,"y":964},{"x":2431,"y":965},{"x":2481,"y":965},{"x":2531,"y":966},
{"x":1615,"y":942},{"x":1657,"y":948},{"x":1698,"y":953},{"x":1740,"y":959},{"x":1781,"y":964},{"x":1822,"y":970},{"x":1864,"y":975},{"x":1905,"y":981},{"x":1947,"y":986},{"x":1988,"y":987},{"x":2030,"y":987},{"x":2071,"y":988},{"x":2113,"y":989},{"x":2154,"y":989},{"x":2195,"y":990},{"x":2237,"y":990},{"x":2278,"y":991},{"x":2327,"y":991},{"x":2375,"y":991},{"x":2424,"y":992},{"x":2473,"y":992},{"x":2521,"y":992},
{"x":1641,"y":971},{"x":1679,"y":976},{"x":1718,"y":982},{"x":1756,"y":987},{"x":1795,"y":992},{"x":1834,"y":997},{"x":1872,"y":1003},{"x":1911,"y":1008},{"x":1949,"y":1013},{"x":1990,"y":1014},{"x":2031,"y":1014},{"x":2071,"y":1015},{"x":2112,"y":1016},{"x":2153,"y":1016},{"x":2193,"y":1017},{"x":2234,"y":1017},{"x":2275,"y":1018},{"x":2322,"y":1018},{"x":2370,"y":1018},{"x":2417,"y":1019},{"x":2464,"y":1019},{"x":2512,"y":1019},
{"x":1666,"y":999},{"x":1701,"y":1004},{"x":1737,"y":1010},{"x":1773,"y":1015},{"x":1809,"y":1020},{"x":1845,"y":1025},{"x":1880,"y":1031},{"x":1916,"y":1036},{"x":1952,"y":1041},{"x":1992,"y":1042},{"x":2032,"y":1042},{"x":2072,"y":1043},{"x":2112,"y":1044},{"x":2152,"y":1044},{"x":2191,"y":1045},{"x":2232,"y":1045},{"x":2271,"y":1046},{"x":2318,"y":1046},{"x":2364,"y":1046},{"x":2410,"y":1046},{"x":2456,"y":1045},{"x":2502,"y":1045},
{"x":1693,"y":1027},{"x":1726,"y":1032},{"x":1759,"y":1037},{"x":1792,"y":1042},{"x":1826,"y":1048},{"x":1859,"y":1053},{"x":1892,"y":1058},{"x":1926,"y":1063},{"x":1959,"y":1068},{"x":1998,"y":1069},{"x":2036,"y":1069},{"x":2075,"y":1070},{"x":2113,"y":1071},{"x":2152,"y":1071},{"x":2190,"y":1072},{"x":2229,"y":1072},{"x":2267,"y":1073},{"x":2312,"y":1073},{"x":2356,"y":1073},{"x":2400,"y":1072},{"x":2445,"y":1071},{"x":2489,"y":1071},
{"x":1722,"y":1055},{"x":1753,"y":1060},{"x":1784,"y":1065},{"x":1815,"y":1070},{"x":1846,"y":1076},{"x":1877,"y":1081},{"x":1908,"y":1086},{"x":1939,"y":1091},{"x":1970,"y":1096},{"x":2007,"y":1097},{"x":2043,"y":1097},{"x":2080,"y":1098},{"x":2117,"y":1099},{"x":2153,"y":1099},{"x":2190,"y":1100},{"x":2227,"y":1100},{"x":2263,"y":1101},{"x":2305,"y":1100},{"x":2347,"y":1099},{"x":2388,"y":1098},{"x":2430,"y":1097},{"x":2472,"y":1097},
{"x":1750,"y":1083},{"x":1779,"y":1088},{"x":1808,"y":1093},{"x":1837,"y":1098},{"x":1866,"y":1103},{"x":1895,"y":1108},{"x":1924,"y":1113},{"x":1953,"y":1118},{"x":1982,"y":1123},{"x":2017,"y":1124},{"x":2051,"y":1124},{"x":2086,"y":1125},{"x":2121,"y":1126},{"x":2155,"y":1126},{"x":2190,"y":1127},{"x":2224,"y":1127},{"x":2259,"y":1128},{"x":2298,"y":1127},{"x":2337,"y":1126},{"x":2376,"y":1125},{"x":2415,"y":1123},{"x":2454,"y":1122},
{"x":1779,"y":1111},{"x":1806,"y":1116},{"x":1832,"y":1121},{"x":1859,"y":1126},{"x":1886,"y":1131},{"x":1912,"y":1136},{"x":1939,"y":1141},{"x":1966,"y":1146},{"x":1993,"y":1151},{"x":2026,"y":1152},{"x":2058,"y":1152},{"x":2091,"y":1153},{"x":2124,"y":1154},{"x":2156,"y":1154},{"x":2189,"y":1155},{"x":2221,"y":1155},{"x":2254,"y":1156},{"x":2291,"y":1154},{"x":2327,"y":1152},{"x":2364,"y":1151},{"x":2400,"y":1149},{"x":2437,"y":1148},
{"x":1808,"y":1139},{"x":1833,"y":1144},{"x":1858,"y":1149},{"x":1883,"y":1154},{"x":1908,"y":1159},{"x":1933,"y":1163},{"x":1958,"y":1168},{"x":1982,"y":1173},{"x":2007,"y":1178},{"x":2038,"y":1179},{"x":2068,"y":1179},{"x":2098,"y":1180},{"x":2128,"y":1181},{"x":2158,"y":1181},{"x":2189,"y":1182},{"x":2218,"y":1182},{"x":2249,"y":1183},{"x":2282,"y":1181},{"x":2316,"y":1178},{"x":2350,"y":1177},{"x":2383,"y":1175},{"x":2416,"y":1172},
{"x":1838,"y":1167},{"x":1861,"y":1172},{"x":1884,"y":1177},{"x":1908,"y":1181},{"x":1932,"y":1186},{"x":1955,"y":1191},{"x":1978,"y":1195},{"x":2001,"y":1200},{"x":2025,"y":1204},{"x":2052,"y":1205},{"x":2079,"y":1206},{"x":2106,"y":1206},{"x":2134,"y":1207},{"x":2160,"y":1208},{"x":2188,"y":1209},{"x":2214,"y":1209},{"x":2242,"y":1210},{"x":2272,"y":1207},{"x":2302,"y":1204},{"x":2333,"y":1202},{"x":2363,"y":1200},{"x":2393,"y":1197},
{"x":1867,"y":1195},{"x":1889,"y":1200},{"x":1911,"y":1204},{"x":1933,"y":1209},{"x":1955,"y":1213},{"x":1977,"y":1218},{"x":1999,"y":1222},{"x":2020,"y":1227},{"x":2042,"y":1231},{"x":2067,"y":1232},{"x":2090,"y":1232},{"x":2115,"y":1233},{"x":2139,"y":1234},{"x":2163,"y":1234},{"x":2187,"y":1235},{"x":2211,"y":1235},{"x":2235,"y":1236},{"x":2262,"y":1233},{"x":2289,"y":1230},{"x":2316,"y":1227},{"x":2343,"y":1224},{"x":2370,"y":1221},
{"x":1897,"y":1223},{"x":1917,"y":1227},{"x":1937,"y":1232},{"x":1958,"y":1236},{"x":1979,"y":1241},{"x":1999,"y":1245},{"x":2019,"y":1249},{"x":2040,"y":1253},{"x":2060,"y":1257},{"x":2081,"y":1258},{"x":2102,"y":1259},{"x":2123,"y":1259},{"x":2144,"y":1260},{"x":2165,"y":1261},{"x":2186,"y":1262},{"x":2207,"y":1262},{"x":2228,"y":1263},{"x":2251,"y":1259},{"x":2275,"y":1256},{"x":2299,"y":1252},{"x":2322,"y":1249},{"x":2346,"y":1245},
{"x":1532,"y":417},{"x":1576,"y":416},{"x":1620,"y":414},{"x":1663,"y":413},{"x":1707,"y":411},{"x":1751,"y":409},{"x":1794,"y":408},{"x":1830,"y":409},{"x":1866,"y":410},{"x":1902,"y":410},{"x":1938,"y":411},{"x":1973,"y":412},{"x":2009,"y":413},{"x":2045,"y":413},{"x":2081,"y":414},{"x":2114,"y":414},{"x":2147,"y":414},{"x":2180,"y":414},{"x":2213,"y":415},{"x":2246,"y":415},{"x":2279,"y":415},{"x":2312,"y":415},
{"x":1471,"y":425},{"x":1515,"y":424},{"x":1559,"y":423},{"x":1602,"y":422},{"x":1646,"y":421},{"x":1690,"y":420},{"x":1734,"y":419},{"x":1777,"y":422},{"x":1819,"y":424},{"x":1861,"y":427},{"x":1903,"y":430},{"x":1946,"y":432},{"x":1988,"y":435},{"x":2030,"y":437},{"x":2072,"y":440},{"x":2106,"y":440},{"x":2140,"y":441},{"x":2174,"y":441},{"x":2208,"y":441},{"x":2242,"y":441},{"x":2276,"y":442},{"x":2310,"y":442},
{"x":1409,"y":433},{"x":1453,"y":433},{"x":1498,"y":432},{"x":1542,"y":432},{"x":1586,"y":431},{"x":1630,"y":430},{"x":1674,"y":430},{"x":1723,"y":435},{"x":1772,"y":439},{"x":1821,"y":444},{"x":1869,"y":448},{"x":1918,"y":453},{"x":1966,"y":457},{"x":2015,"y":462},{"x":2064,"y":466},{"x":2098,"y":466},{"x":2133,"y":467},{"x":2168,"y":467},{"x":2202,"y":467},{"x":2237,"y":467},{"x":2272,"y":468},{"x":2306,"y":468},
{"x":1347,"y":441},{"x":1392,"y":441},{"x":1436,"y":441},{"x":1481,"y":441},{"x":1525,"y":441},{"x":1570,"y":441},{"x":1614,"y":441},{"x":1669,"y":447},{"x":1725,"y":454},{"x":1780,"y":460},{"x":1835,"y":466},{"x":1889,"y":473},{"x":1945,"y":479},{"x":2000,"y":486},{"x":2055,"y":492},{"x":2090,"y":492},{"x":2126,"y":493},{"x":2161,"y":493},{"x":2197,"y":493},{"x":2232,"y":493},{"x":2267,"y":494},{"x":2303,"y":494},
{"x":1287,"y":452},{"x":1333,"y":453},{"x":1379,"y":454},{"x":1426,"y":456},{"x":1472,"y":456},{"x":1518,"y":457},{"x":1565,"y":458},{"x":1625,"y":466},{"x":1685,"y":474},{"x":1745,"y":481},{"x":1805,"y":488},{"x":1865,"y":496},{"x":1926,"y":504},{"x":1986,"y":511},{"x":2046,"y":519},{"x":2082,"y":519},{"x":2118,"y":520},{"x":2155,"y":520},{"x":2191,"y":520},{"x":2227,"y":520},{"x":2263,"y":521},{"x":2300,"y":521},
{"x":1238,"y":473},{"x":1286,"y":475},{"x":1334,"y":476},{"x":1382,"y":478},{"x":1430,"y":479},{"x":1478,"y":480},{"x":1526,"y":482},{"x":1590,"y":490},{"x":1653,"y":498},{"x":1717,"y":506},{"x":1781,"y":514},{"x":1845,"y":522},{"x":1909,"y":530},{"x":1972,"y":538},{"x":2036,"y":546},{"x":2074,"y":546},{"x":2110,"y":547},{"x":2148,"y":547},{"x":2185,"y":548},{"x":2222,"y":548},{"x":2259,"y":548},{"x":2296,"y":549},
{"x":1212,"y":501},{"x":1258,"y":502},{"x":1304,"y":503},{"x":1350,"y":503},{"x":1395,"y":504},{"x":1441,"y":505},{"x":1487,"y":505},{"x":1554,"y":514},{"x":1622,"y":523},{"x":1689,"y":531},{"x":1757,"y":540},{"x":1824,"y":548},{"x":1892,"y":557},{"x":1959,"y":565},{"x":2027,"y":574},{"x":2065,"y":574},{"x":2103,"y":575},{"x":2141,"y":575},{"x":2179,"y":575},{"x":2217,"y":575},{"x":2255,"y":576},{"x":2293,"y":576},
{"x":1207,"y":528},{"x":1248,"y":528},{"x":1287,"y":528},{"x":1328,"y":528},{"x":1368,"y":528},{"x":1408,"y":529},{"x":1448,"y":529},{"x":1519,"y":538},{"x":1590,"y":547},{"x":1661,"y":556},{"x":1733,"y":565},{"x":1804,"y":574},{"x":1875,"y":583},{"x":1946,"y":592},{"x":2017,"y":601},{"x":2056,"y":601},{"x":2095,"y":602},{"x":2134,"y":602},{"x":2173,"y":603},{"x":2211,"y":603},{"x":2250,"y":603},{"x":2289,"y":604},
{"x":1214,"y":555},{"x":1250,"y":555},{"x":1285,"y":555},{"x":1321,"y":556},{"x":1356,"y":556},{"x":1392,"y":556},{"x":1427,"y":556},{"x":1500,"y":565},{"x":1572,"y":574},{"x":1645,"y":583},{"x":1718,"y":592},{"x":1790,"y":601},{"x":1863,"y":610},{"x":1935,"y":619},{"x":2008,"y":628},{"x":2047,"y":628},{"x":2087,"y":629},{"x":2127,"y":629},{"x":2166,"y":630},{"x":2206,"y":630},{"x":2245,"y":630},{"x":2285,"y":631},
{"x":1225,"y":585},{"x":1259,"y":586},{"x":1292,"y":586},{"x":1326,"y":587},{"x":1359,"y":587},{"x":1393,"y":587},{"x":1426,"y":587},{"x":1497,"y":596},{"x":1569,"y":605},{"x":1641,"y":613},{"x":1713,"y":621},{"x":1784,"y":630},{"x":1856,"y":639},{"x":1928,"y":647},{"x":1999,"y":655},{"x":2040,"y":656},{"x":2080,"y":656},{"x":2120,"y":657},{"x":2161,"y":657},{"x":2201,"y":658},{"x":2241,"y":658},{"x":2281,"y":659},
{"x":1235,"y":615},{"x":1267,"y":616},{"x":1298,"y":616},{"x":1330,"y":617},{"x":1361,"y":617},{"x":1393,"y":618},{"x":1424,"y":619},{"x":1495,"y":627},{"x":1566,"y":635},{"x":1637,"y":643},{"x":1708,"y":651},{"x":1778,"y":659},{"x":1849,"y":667},{"x":1920,"y":675},{"x":1991,"y":683},{"x":2032,"y":684},{"x":2073,"y":684},{"x":2114,"y":685},{"x":2155,"y":685},{"x":2195,"y":686},{"x":2237,"y":686},{"x":2277,"y":687},
{"x":1245,"y":644},{"x":1275,"y":645},{"x":1304,"y":646},{"x":1334,"y":647},{"x":1363,"y":648},{"x":1393,"y":649},{"x":1422,"y":650},{"x":1492,"y":657},{"x":1562,"y":665},{"x":1632,"y":672},{"x":1702,"y":680},{"x":1772,"y":687},{"x":1842,"y":695},{"x":1912,"y":702},{"x":1982,"y":710},{"x":2023,"y":711},{"x":2065,"y":711},{"x":2107,"y":712},{"x":2148,"y":713},{"x":2190,"y":713},{"x":2232,"y":714},{"x":2273,"y":714},
{"x":1260,"y":674},{"x":1288,"y":675},{"x":1316,"y":676},{"x":1345,"y":677},{"x":1373,"y":678},{"x":1401,"y":679},{"x":1429,"y":680},{"x":1498,"y":687},{"x":1565,"y":695},{"x":1634,"y":702},{"x":1702,"y":709},{"x":1770,"y":716},{"x":1838,"y":723},{"x":1906,"y":730},{"x":1974,"y":737},{"x":2016,"y":738},{"x":2058,"y":739},{"x":2100,"y":739},{"x":2143,"y":740},{"x":2185,"y":741},{"x":2227,"y":742},{"x":2269,"y":742},
{"x":1279,"y":703},{"x":1307,"y":704},{"x":1334,"y":705},{"x":1362,"y":707},{"x":1390,"y":708},{"x":1417,"y":709},{"x":1445,"y":710},{"x":1510,"y":717},{"x":1575,"y":724},{"x":1641,"y":731},{"x":1706,"y":738},{"x":1771,"y":744},{"x":1837,"y":751},{"x":1902,"y":758},{"x":1967,"y":765},{"x":2010,"y":766},{"x":2053,"y":766},{"x":2095,"y":767},{"x":2138,"y":768},{"x":2180,"y":768},{"x":2223,"y":769},{"x":2265,"y":769},
{"x":1299,"y":733},{"x":1326,"y":734},{"x":1352,"y":735},{"x":1380,"y":737},{"x":1407,"y":738},{"x":1433,"y":739},{"x":1460,"y":740},{"x":1523,"y":747},{"x":1585,"y":753},{"x":1648,"y":760},{"x":1711,"y":766},{"x":1773,"y":773},{"x":1836,"y":779},{"x":1898,"y":786},{"x":1961,"y":792},{"x":2004,"y":793},{"x":2047,"y":794},{"x":2089,"y":794},{"x":2133,"y":795},{"x":2176,"y":796},{"x":2219,"y":797},{"x":2261,"y":797},
{"x":1318,"y":762},{"x":1344,"y":763},{"x":1370,"y":764},{"x":1397,"y":766},{"x":1423,"y":767},{"x":1449,"y":768},{"x":1476,"y":769},{"x":1535,"y":776},{"x":1595,"y":782},{"x":1655,"y":788},{"x":1715,"y":795},{"x":1775,"y":801},{"x":1834,"y":807},{"x":1894,"y":814},{"x":1954,"y":820},{"x":1997,"y":821},{"x":2040,"y":821},{"x":2084,"y":822},{"x":2127,"y":823},{"x":2171,"y":823},{"x":2214,"y":824},{"x":2257,"y":824},
{"x":1341,"y":790},{"x":1367,"y":791},{"x":1392,"y":793},{"x":1418,"y":794},{"x":1444,"y":796},{"x":1470,"y":797},
{"x":1368,"y":817},{"x":1393,"y":819},{"x":1418,"y":820},{"x":1444,"y":822},{"x":1468,"y":824},{"x":1494,"y":826},
{"x":1395,"y":844},{"x":1419,"y":846},{"x":1444,"y":848},{"x":1469,"y":850},{"x":1493,"y":852},{"x":1518,"y":854},
{"x":1422,"y":871},{"x":1446,"y":873},{"x":1470,"y":875},{"x":1494,"y":878},{"x":1518,"y":880},{"x":1542,"y":883},
{"x":1450,"y":898},{"x":1474,"y":901},{"x":1497,"y":903},{"x":1520,"y":906},{"x":1543,"y":908},{"x":1566,"y":911},
{"x":1481,"y":925},{"x":1503,"y":928},{"x":1526,"y":931},{"x":1548,"y":934},{"x":1570,"y":936},{"x":1593,"y":939},
{"x":1511,"y":951},{"x":1533,"y":955},{"x":1554,"y":958},{"x":1576,"y":961},{"x":1598,"y":964},{"x":1619,"y":968},
{"x":1541,"y":978},{"x":1562,"y":982},{"x":1583,"y":985},{"x":1604,"y":989},{"x":1624,"y":992},{"x":1645,"y":996},
{"x":1572,"y":1005},{"x":1592,"y":1009},{"x":1612,"y":1012},{"x":1632,"y":1016},{"x":1652,"y":1020},{"x":1673,"y":1023},
{"x":1602,"y":1032},{"x":1622,"y":1036},{"x":1642,"y":1040},{"x":1662,"y":1044},{"x":1682,"y":1047},{"x":1702,"y":1051},
{"x":1633,"y":1059},{"x":1652,"y":1063},{"x":1672,"y":1067},{"x":1692,"y":1071},{"x":1711,"y":1075},{"x":1731,"y":1079},
{"x":1663,"y":1086},{"x":1682,"y":1090},{"x":1702,"y":1094},{"x":1721,"y":1099},{"x":1740,"y":1103},{"x":1760,"y":1107},
{"x":1694,"y":1112},{"x":1713,"y":1117},{"x":1732,"y":1121},{"x":1752,"y":1126},{"x":1770,"y":1130},{"x":1789,"y":1135},
{"x":1727,"y":1139},{"x":1745,"y":1144},{"x":1764,"y":1148},{"x":1783,"y":1153},{"x":1801,"y":1158},{"x":1819,"y":1162},
{"x":1759,"y":1165},{"x":1777,"y":1170},{"x":1795,"y":1175},{"x":1814,"y":1181},{"x":1831,"y":1185},{"x":1849,"y":1190},
{"x":1791,"y":1191},{"x":1809,"y":1197},{"x":1827,"y":1202},{"x":1844,"y":1208},{"x":1861,"y":1213},{"x":1879,"y":1218}
],
"blue":[{"x":1849,"y":440},{"x":2103,"y":459},{"x":2266,"y":504},{"x":1299,"y":538},{"x":1306,"y":624},{"x":2454,"y":667},{"x":2419,"y":767},{"x":1546,"y":871},{"x":1824,"y":1163},{"x":1852,"y":1176},{"x":2123,"y":1181}],
"big":[{"x":3483,"y":463},{"x":3101,"y":616},{"x":2810,"y":795},{"x":2647,"y":987}],
"star":[{"x":2468,"y":1160}],
"arrows":[{"x":3017,"y":476,"s":"a1"},{"x":2785,"y":604,"s":"a2"},{"x":2624,"y":788,"s":"a3"},{"x":2475,"y":988,"s":"a4"}],
"cross":[{"x":1946,"y":711}],
"labels":[{"x":1622,"y":545,"t":"Mouth closing"},{"x":1223,"y":725,"t":"Retraction"},{"x":2224,"y":724,"t":"Protraction"},{"x":1639,"y":898,"t":"Mouth opening"}],
"phon":[{"x":3643,"y":461,"t":"[i]"},{"x":3017,"y":865,"t":"[æ]"}]
},
"encoding":{
"x":{"field":"x","type":"quantitative","scale":{"domain":[1000,3668],"nice":false,"zero":false},"axis":{"title":"F2 (Hz)","values":[1000,1500,2000,2500,3000,3500],"format":"d"}},
"y":{"field":"y","type":"quantitative","scale":{"domain":[400,1400],"reverse":true,"nice":false,"zero":false},"axis":{"title":"F1 (Hz)","values":[400,500,600,700,800,900,1000,1100,1200,1300,1400],"format":"d"}}
},
"layer":[
{"data":{"name":"dots"},"mark":{"type":"circle","size":33,"color":"#ff0000","opacity":1}},
{"data":{"name":"big"},"mark":{"type":"circle","size":240,"color":"#ff0000","opacity":1}},
{"data":{"name":"star"},"mark":{"type":"point","shape":"M1,0L0.6,0.35L0.5,0.87L0,0.7L-0.5,0.87L-0.6,0.35L-1,0L-0.6,-0.35L-0.5,-0.87L0,-0.7L0.5,-0.87L0.6,-0.35Z","size":484,"filled":true,"color":"#ff0000","opacity":1}},
{"data":{"name":"blue"},"mark":{"type":"circle","size":250,"color":"#0000ff","opacity":1}},
{"data":{"name":"arrows"},"mark":{"type":"point","size":400,"filled":true,"fill":"#4f81bd","stroke":"#385d8a","strokeWidth":2,"opacity":1},
 "encoding":{"shape":{"field":"s","type":"nominal","legend":null,"scale":{"domain":["a1","a2","a3","a4"],"range":["M-3.2,-1.1L1.1,-1.1L1.1,-2.1L3.2,0L1.1,2.1L1.1,1.1L-3.2,1.1Z","M-2.55,-0.9L0.45,-0.9L0.45,-2.1L2.55,0L0.45,2.1L0.45,0.9L-2.55,0.9Z","M-2.2,-0.9L0,-0.9L0,-2.05L2.2,0L0,2.05L0,0.9L-2.2,0.9Z","M-1.8,-1L-0.3,-1L-0.3,-2.1L1.8,0L-0.3,2.1L-0.3,1L-1.8,1Z"]}}}},
{"data":{"name":"cross"},"mark":{"type":"point","shape":"M0,-8.5L3.5,-5L1.7,-5L1.7,-1.7L4,-1.7L4,-3.3L7.5,0L4,3.3L4,1.7L1.7,1.7L1.7,5.2L3.5,5.2L0,8.6L-3.5,5.2L-1.7,5.2L-1.7,1.7L-4,1.7L-4,3.3L-7.5,0L-4,-3.3L-4,-1.7L-1.7,-1.7L-1.7,-5L-3.5,-5Z","size":400,"filled":false,"color":"#41608c","stroke":"#41608c","strokeWidth":3,"opacity":1}},
{"data":{"name":"labels"},"mark":{"type":"text","font":"Open Sans","fontSize":26,"align":"left","baseline":"alphabetic","color":"#000000"},"encoding":{"text":{"field":"t","type":"nominal"}}},
{"data":{"name":"phon"},"mark":{"type":"text","font":"Open Sans","fontSize":37,"align":"left","baseline":"alphabetic","color":"#000000"},"encoding":{"text":{"field":"t","type":"nominal"}}}
]
}
